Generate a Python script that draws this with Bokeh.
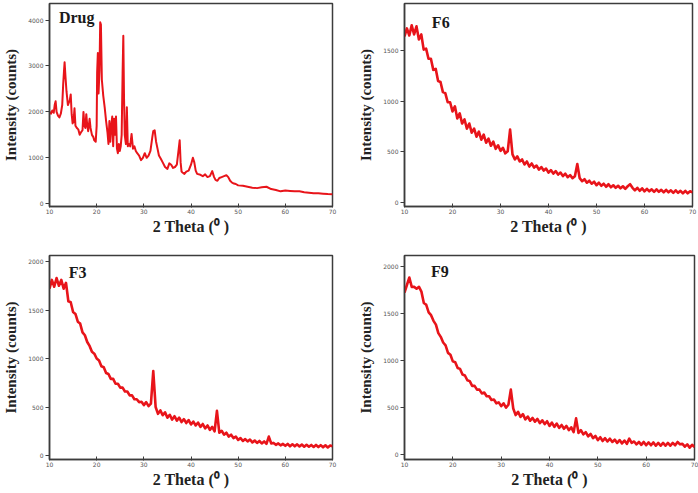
from bokeh.plotting import figure
from bokeh.layouts import column, row
from bokeh.models import Range1d, FixedTicker, Label
from bokeh.embed import file_html
from bokeh.resources import INLINE

# ---------------- data ----------------
x_ticks = [10, 20, 30, 40, 50, 60, 70]
drug_yticks = [0, 1000, 2000, 3000, 4000]
f6_yticks = [0, 500, 1000, 1500]
f3_yticks = [0, 500, 1000, 1500, 2000]
f9_yticks = [0, 500, 1000, 1500, 2000]

drug_x = [10.0, 10.3, 10.6, 10.9, 11.1, 11.3, 11.5, 11.8, 12.1, 12.4,
          12.7, 12.9, 13.05, 13.2, 13.4, 13.6, 13.9, 14.1, 14.3, 14.5,
          14.7, 14.9, 15.1, 15.3, 15.5, 15.8, 16.1, 16.4, 16.7, 17.0,
          17.2, 17.4, 17.6, 17.8, 18.0, 18.2, 18.5, 18.7, 19.0, 19.3,
          19.5, 19.8, 20.0, 20.1, 20.25, 20.4, 20.6, 20.75, 20.9, 21.1,
          21.4, 21.7, 22.0, 22.3, 22.5, 22.7, 22.9, 23.1, 23.3, 23.5,
          23.7, 23.9, 24.1, 24.3, 24.5, 24.7, 24.9, 25.1, 25.3, 25.5,
          25.65, 25.8, 25.95, 26.2, 26.4, 26.6, 26.8, 27.1, 27.4, 27.7,
          28.0, 28.3, 28.6, 29.0, 29.4, 29.8, 30.2, 30.6, 31.0, 31.4,
          31.8, 32.0, 32.3, 32.6, 32.9, 33.2, 33.6, 34.0, 34.5, 35.0,
          35.4, 35.8, 36.2, 36.6, 37.0, 37.4, 37.6, 37.8, 38.0, 38.2,
          38.6, 39.0, 39.5, 40.0, 40.4, 40.7, 41.0, 41.3, 42.0, 42.5,
          43.0, 43.5, 44.0, 44.5, 44.9, 45.2, 45.6, 46.0, 46.5, 47.0,
          47.5, 47.9, 48.3, 48.7, 49.1, 49.5, 50.0, 51.0, 52.0, 53.0,
          54.0, 55.0, 56.0, 57.0, 58.0, 59.0, 60.0, 61.0, 62.0, 63.0,
          64.0, 65.0, 66.0, 67.0, 68.0, 69.0, 70.0]
drug_y = [2000, 1960, 2030, 1980, 2150, 2230, 2000, 1920, 1880, 1960,
          2150, 2600, 2850, 3080, 2750, 2450, 2150, 2200, 2250, 2380,
          1950, 1750, 1800, 2080, 1700, 1650, 1620, 1500, 1560, 1600,
          2000, 1700, 1650, 1950, 1700, 1580, 1850, 1650, 1500, 1450,
          1380, 1350, 1700, 2850, 3280, 2400, 2900, 3950, 3900, 2700,
          2350, 2100, 1800, 1550, 1300, 1800, 1350, 1700, 1900, 1250,
          1850, 1500, 1900, 1200, 1100, 1300, 1150, 1250, 1500, 2850,
          3660, 2300, 1500, 1300, 2100, 1250, 1300, 1250, 1520, 1200,
          1250, 1150, 1100, 1050, 950, 1000, 1100, 1000, 1050, 1150,
          1450, 1580, 1600, 1350, 1200, 1050, 980, 900, 800, 760,
          880, 850, 780, 800, 850, 1200, 1380, 900, 700, 680,
          650, 700, 720, 850, 1000, 900, 720, 650, 630, 600,
          640, 580, 600, 710, 580, 520, 500, 560, 580, 600,
          620, 580, 500, 460, 440, 430, 400, 390, 370, 350,
          340, 360, 370, 320, 300, 270, 290, 280, 270, 270,
          250, 240, 230, 230, 220, 210, 205]

# two-theta grid of the formulation scans (0.5 degree steps)
f_x = [10.0, 10.5, 11.0, 11.5, 12.0, 12.5, 13.0, 13.5, 14.0, 14.5,
       15.0, 15.5, 16.0, 16.5, 17.0, 17.5, 18.0, 18.5, 19.0, 19.5,
       20.0, 20.5, 21.0, 21.5, 22.0, 22.5, 23.0, 23.5, 24.0, 24.5,
       25.0, 25.5, 26.0, 26.5, 27.0, 27.5, 28.0, 28.5, 29.0, 29.5,
       30.0, 30.5, 31.0, 31.5, 32.0, 32.5, 33.0, 33.5, 34.0, 34.5,
       35.0, 35.5, 36.0, 36.5, 37.0, 37.5, 38.0, 38.5, 39.0, 39.5,
       40.0, 40.5, 41.0, 41.5, 42.0, 42.5, 43.0, 43.5, 44.0, 44.5,
       45.0, 45.5, 46.0, 46.5, 47.0, 47.5, 48.0, 48.5, 49.0, 49.5,
       50.0, 50.5, 51.0, 51.5, 52.0, 52.5, 53.0, 53.5, 54.0, 54.5,
       55.0, 55.5, 56.0, 56.5, 57.0, 57.5, 58.0, 58.5, 59.0, 59.5,
       60.0, 60.5, 61.0, 61.5, 62.0, 62.5, 63.0, 63.5, 64.0, 64.5,
       65.0, 65.5, 66.0, 66.5, 67.0, 67.5, 68.0, 68.5, 69.0, 69.5,
       70.0]

f6_y = [1640, 1720, 1650, 1750, 1660, 1740, 1610, 1660, 1510, 1520,
        1420, 1420, 1310, 1320, 1200, 1190, 1090, 1080, 990, 990,
        900, 950, 830, 880, 780, 820, 730, 780, 690, 730,
        650, 700, 620, 670, 590, 630, 560, 600, 530, 565,
        510, 540, 485, 505, 720, 475, 425, 455, 405, 425,
        375, 405, 355, 385, 345, 365, 325, 350, 315, 335,
        295, 320, 285, 310, 275, 295, 260, 285, 250, 270,
        240, 260, 380, 240, 210, 230, 195, 215, 185, 205,
        170, 195, 165, 185, 155, 180, 150, 170, 145, 165,
        140, 160, 135, 160, 180, 145, 120, 145, 115, 140,
        110, 135, 110, 130, 105, 130, 105, 125, 100, 125,
        100, 120, 95, 120, 95, 115, 90, 115, 90, 110,
        100]

f3_y = [1720, 1810, 1740, 1830, 1750, 1810, 1720, 1780, 1590, 1580,
        1480, 1460, 1380, 1360, 1270, 1240, 1170, 1130, 1070, 1050,
        1000, 980, 920, 910, 850, 840, 790, 790, 740, 740,
        700, 700, 660, 660, 620, 620, 580, 580, 550, 555,
        520, 550, 510, 535, 870, 500, 430, 465, 415, 445,
        390, 420, 370, 405, 360, 390, 345, 375, 335, 365,
        320, 350, 310, 340, 295, 325, 280, 310, 265, 295,
        250, 460, 235, 255, 215, 235, 195, 215, 180, 195,
        160, 180, 150, 170, 145, 165, 135, 155, 130, 150,
        125, 145, 120, 195, 125, 130, 110, 125, 105, 120,
        100, 120, 95, 115, 95, 115, 93, 113, 91, 111,
        91, 109, 89, 109, 87, 107, 85, 105, 83, 103,
        95]

f9_y = [1720, 1800, 1880, 1780, 1780, 1760, 1780, 1730, 1610, 1590,
        1510, 1480, 1420, 1380, 1290, 1250, 1190, 1160, 1080, 1060,
        990, 980, 920, 910, 850, 840, 790, 780, 730, 730,
        690, 690, 650, 660, 620, 620, 580, 585, 545, 555,
        515, 545, 500, 530, 690, 490, 420, 455, 400, 430,
        375, 405, 360, 390, 350, 380, 335, 365, 325, 355,
        305, 340, 295, 330, 285, 315, 275, 305, 260, 290,
        240, 385, 230, 260, 215, 240, 195, 220, 175, 200,
        155, 185, 145, 175, 140, 170, 135, 160, 125, 155,
        120, 150, 115, 170, 125, 140, 110, 135, 105, 135,
        100, 130, 100, 130, 95, 125, 95, 125, 95, 125,
        95, 125, 100, 135, 110, 115, 85, 110, 75, 105,
        80]

RED = "#e8141a"
AX = "#3c3c3c"
SERIF = "Liberation Serif"


def panel(name, xs, ys, yr, yticks, w, h, bl, br, bt, bb, lx, ly, lw):
    p = figure(width=w, height=h, output_backend="svg",
               toolbar_location=None,
               x_range=Range1d(10, 70), y_range=Range1d(yr[0], yr[1]),
               min_border_left=bl, min_border_right=br,
               min_border_top=bt, min_border_bottom=bb)
    p.line(xs, ys, line_color=RED, line_width=lw, line_join="round")
    p.grid.visible = False
    p.outline_line_color = AX
    p.outline_line_width = 1.5
    p.background_fill_color = "white"
    p.border_fill_color = "white"

    xa = p.xaxis[0]
    xa.ticker = FixedTicker(ticks=x_ticks)
    xa.axis_label = "2 Theta (\u2070 )"
    ya = p.yaxis[0]
    ya.ticker = FixedTicker(ticks=yticks)
    ya.axis_label = "Intensity (counts)"
    for a in (xa, ya):
        a.axis_line_color = AX
        a.axis_line_width = 1.5
        a.major_tick_line_color = AX
        a.minor_tick_line_color = None
        a.major_label_text_font = "DejaVu Sans"
        a.major_label_text_font_size = "6px"
        a.major_label_text_color = "#555555"
        a.axis_label_text_font = SERIF
        a.axis_label_text_font_style = "bold"
        a.axis_label_text_color = "#222222"
        a.axis_label_text_line_height = 1.0
        a.major_label_text_line_height = 1.0
    xa.major_tick_in = 3
    xa.major_tick_out = 1
    xa.major_label_standoff = 1
    xa.axis_label_standoff = 1
    xa.axis_label_text_font_size = "16px"
    ya.major_tick_in = 0
    ya.major_tick_out = 4
    ya.major_label_standoff = 2
    ya.axis_label_standoff = 6
    ya.axis_label_text_font_size = "15px"

    p.add_layout(Label(x=lx, y=ly, text=name, text_font=SERIF,
                       text_font_style="bold", text_font_size="16px",
                       text_color="#1a1a1a", text_baseline="top"))
    return p


p1 = panel("Drug", drug_x, drug_y, (-60, 4360), drug_yticks,
           349, 246, 47, 17, 3, 34, 12.0, 4230, 2.0)
p2 = panel("F6", f_x, f6_y, (-40, 1966), f6_yticks,
           349, 246, 55, 6, 1, 40, 15.7, 1860, 2.6)
p3 = panel("F3", f_x, f3_y, (-41, 2062), f3_yticks,
           349, 247, 46, 17, 9, 34, 14.1, 1975, 2.6)
p4 = panel("F9", f_x, f9_y, (-51, 2113), f9_yticks,
           349, 247, 55, 4, 5, 32, 15.5, 2030, 2.6)

layout = column(row(p1, p2), row(p3, p4))
open("out.html", "w").write(file_html(layout, INLINE))
